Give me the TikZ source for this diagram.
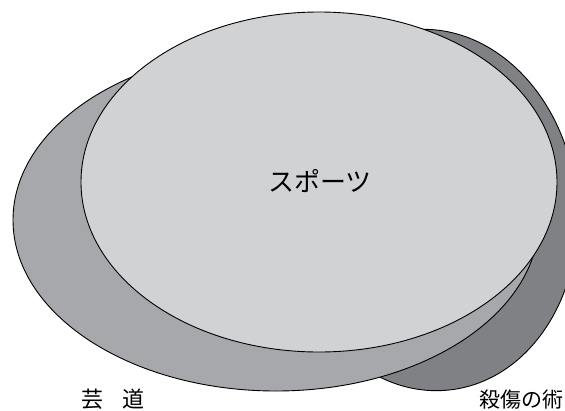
\documentclass[tikz,border=0pt]{standalone}
\usepackage{fontspec}
\newfontfamily\jp{Noto Sans CJK JP}
\definecolor{cfront}{RGB}{209,210,212}
\definecolor{cmid}{RGB}{167,168,172}
\definecolor{cdark}{RGB}{128,129,132}
\begin{document}
\begin{tikzpicture}[x=1pt,y=-1pt,
  blob/.style={draw=black, line width=0.9pt},
  lbl/.style={font=\jp\fontsize{22}{26}\selectfont, inner sep=0pt},
  biglbl/.style={font=\jp\fontsize{26}{30}\selectfont, inner sep=0pt}]
\useasboundingbox (0,0) rectangle (565,410);
\clip (0,0) rectangle (565,410);
\filldraw[blob, fill=cdark, rotate around={6:(430,210)}] (430,210) ellipse (147 and 181);
\filldraw[blob, fill=cmid] (276,220) ellipse (263 and 171);
\filldraw[blob, fill=cfront] (319,182) ellipse (238 and 170);
\node[biglbl] (sports) at (320,181) {スポーツ};
\node[lbl, anchor=base west] (geido) at (81,407) {芸\hspace{19pt}道};
\node[lbl, anchor=base east, font=\jp\fontsize{21}{25}\selectfont] (sassho) at (564,407) {殺傷の術};
\end{tikzpicture}
\end{document}
